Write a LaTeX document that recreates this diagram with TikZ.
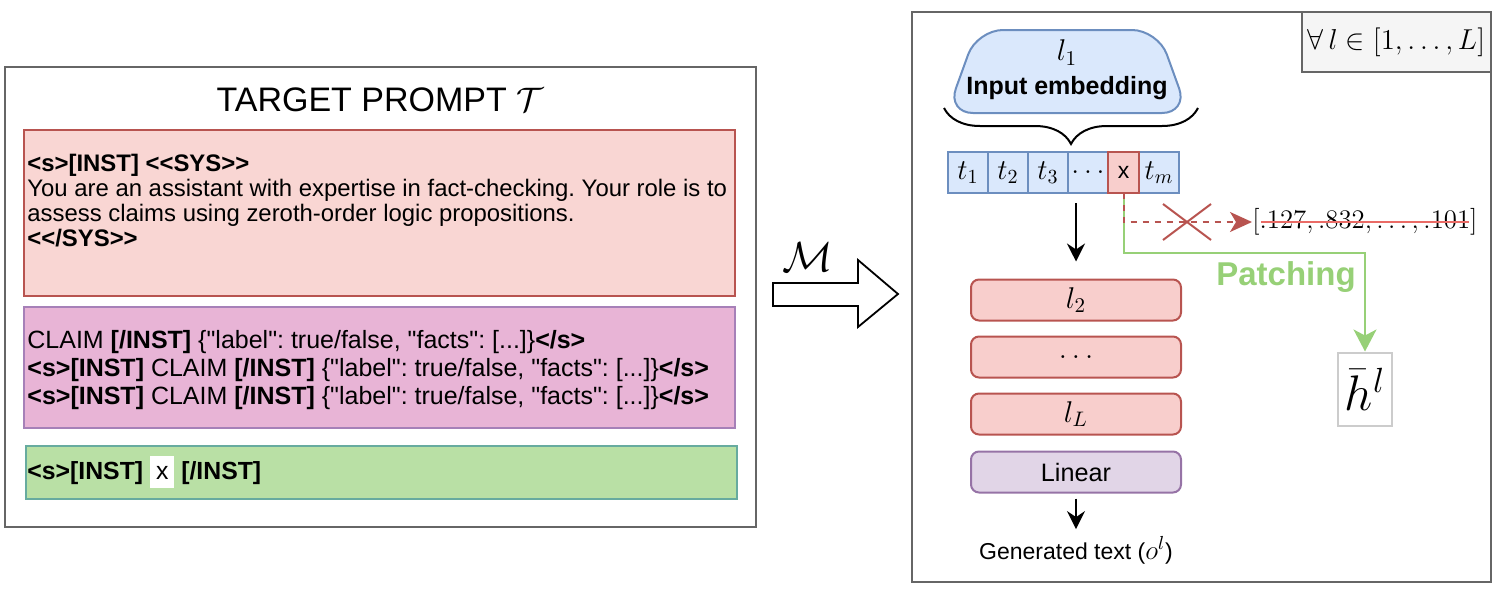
\RequirePackage{fix-cm}
\documentclass[tikz,border=0pt]{standalone}
\usepackage[no-math]{fontspec}
\setmainfont{Liberation Sans}
\usepackage{amsmath}
\usepackage{xcolor}
\usepackage{amssymb}
\usepackage{tikz}
\usetikzlibrary{positioning,shapes.misc,arrows.meta,decorations.pathreplacing}

\definecolor{boxgray}{HTML}{666666}
\definecolor{sysfill}{HTML}{F9D6D3}
\definecolor{sysdraw}{HTML}{B85450}
\definecolor{shotfill}{HTML}{E8B4D6}
\definecolor{shotdraw}{HTML}{A680B8}
\definecolor{qfill}{HTML}{B9E0A5}
\definecolor{qdraw}{HTML}{67AB9F}
\definecolor{embfill}{HTML}{DAE8FC}
\definecolor{embdraw}{HTML}{6C8EBF}
\definecolor{layfill}{HTML}{F8CECC}
\definecolor{linfill}{HTML}{E1D5E7}
\definecolor{lindraw}{HTML}{9673A6}
\definecolor{forallfill}{HTML}{F5F5F5}
\definecolor{hgray}{HTML}{CCCCCC}
\definecolor{patchgreen}{HTML}{97D077}
\definecolor{strikered}{HTML}{EA6B66}
\newcommand{\qt}{\textquotedbl}
\newcommand{\shotline}{\{\qt label\qt: true/false, \qt facts\qt: [...]\}\textbf{</s>}}
\frenchspacing

\begin{document}
\begin{tikzpicture}[x=0.5pt, y=-0.5pt,
panel/.style = {draw=boxgray, line width=1pt, inner sep=0},
part/.style = {line width=1pt, inner sep=0, minimum width=355.5pt},
ptext/.style = {inner sep=0, anchor=west, align=left},
tok/.style = {draw=embdraw, fill=embfill, line width=0.9pt, inner sep=0, outer sep=0, minimum width=20pt, minimum height=20.5pt, font=\fontsize{14.4}{16}\selectfont},
layer/.style = {draw=sysdraw, fill=layfill, line width=1pt, rounded corners=4pt, minimum width=105pt, minimum height=20.5pt, font=\fontsize{15}{17}\selectfont},
arr/.style = {-{Stealth[length=9pt,width=9pt,inset=3pt]}, line width=0.8pt}]
\useasboundingbox (0,0) rectangle (1495,594);

\node[panel, minimum width=375.5pt, minimum height=230pt] (prompt) at (380.5,297) {};
\node[font=\fontsize{17}{20}\selectfont] (title) at (380,100) {TARGET PROMPT $\mathcal{T}$};
\node[part, draw=sysdraw, fill=sysfill, minimum height=83pt] (sys) at (379.5,213) {};
\node[part, draw=shotdraw, fill=shotfill, minimum height=60.5pt] (shots) at (379.5,367.5) {};
\node[part, draw=qdraw, fill=qfill, minimum height=26.5pt] (query) at (381,472) {};
\node[ptext, font=\fontsize{11.95}{12.5}\selectfont] (systext) at (27,201) {\textbf{<s>[INST] <{}<SYS>{}>}\\
You are an assistant with expertise in fact-checking. Your role is to\\
assess claims using zeroth-order logic propositions.\\
\textbf{<{}</SYS>{}>}};
\node[ptext, font=\fontsize{12.5}{14}\selectfont] (shottext) at (27,370) {CLAIM \textbf{[/INST]} \shotline\\
\textbf{<s>[INST]} CLAIM \textbf{[/INST]} \shotline\\
\textbf{<s>[INST]} CLAIM \textbf{[/INST]} \shotline};
\node[ptext, font=\fontsize{12.4}{14}\selectfont] (qtext) at (27,472) {\textbf{<s>[INST]} \setlength{\fboxsep}{3pt}\colorbox{white}{\rule[-1.5pt]{0pt}{10pt}x} \textbf{[/INST]}};

\draw[line width=0.9pt, fill=white] (773,283) -- (858,283) -- (858,260) -- (898,294) -- (858,327) -- (858,306) -- (773,306) -- cycle;
\node[font=\fontsize{21}{24}\selectfont] (model) at (808,257) {$\mathcal{M}$};

\node[panel, minimum width=289.5pt, minimum height=285pt] (patchpanel) at (1201.5,297) {};
\node[panel, fill=forallfill, minimum width=94.5pt, minimum height=30pt, font=\fontsize{14.4}{16}\selectfont] (forall) at (1396.5,42) {$\forall\, l \in [1,\ldots,L]$};

\draw[draw=embdraw, fill=embfill, line width=1pt, rounded corners=13pt] (1067,113) -- (947,113) -- (977,30) -- (1158,30) -- (1188,113) -- cycle;
\node[inner sep=0, align=center, font=\fontsize{12.5}{14}\selectfont] (emb) at (1067,70) {{\fontsize{15}{17}\selectfont$l_1$}\\[3pt]\textbf{Input embedding}};
\draw[decorate, decoration={brace, mirror, amplitude=18pt}, line width=1pt] (944,108) -- (1198,108);

\node[tok] (t1) at (968,172.5) {$t_1$};
\node[tok, right=0pt of t1] (t2) {$t_2$};
\node[tok, right=0pt of t2] (t3) {$t_3$};
\node[tok, right=0pt of t3] (tdots) {$\ldots$};
\node[tok, right=15.5pt of tdots] (tm) {$t_m$};
\node[tok, draw=sysdraw, fill=layfill, line width=1.2pt, minimum width=15.5pt, font=\fontsize{11.5}{13}\selectfont, right=0pt of tdots] (tx) {x};

\node[layer] (l2) at (1076,300) {$l_2$};
\node[layer, below=7pt of l2] (ldots) {$\ldots$};
\node[layer, below=7pt of ldots] (lL) {$l_L$};
\node[layer, draw=lindraw, fill=linfill, below=7.5pt of lL, font=\fontsize{12.6}{14}\selectfont] (lin) {Linear};
\node[font=\fontsize{11.5}{13}\selectfont] (gen) at (1076,550) {Generated text ({\fontsize{13.5}{15}\selectfont$o^l$})};

\draw[arr, shorten <=5pt, shorten >=8.5pt] (l2.north |- t3.south) -- (l2.north);
\draw[arr, shorten <=2.5pt] (lin.south) -- (gen.north);

\node[inner sep=0, anchor=west, font=\fontsize{13.4}{16}\selectfont] (vec) at (1252,222) {$[.127,.832,\ldots,.101]$};
\draw[strikered, line width=1pt] ([xshift=4.5pt]vec.west) -- ([xshift=-4.5pt]vec.east);
\node[draw=hgray, fill=white, line width=1pt, minimum width=27pt, minimum height=36.5pt, inner sep=0, font=\fontsize{25}{30}\selectfont] (hb) at (1365,389) {$\bar{h}^l$};
\node[text=patchgreen, font=\fontsize{16.5}{19}\selectfont\bfseries] (plabel) at (1286,277) {Patching};

\draw[patchgreen, line width=1pt, -{Stealth[length=11pt,width=11.5pt,inset=3pt]}] (tx.south) -- ++(0,60) -| (hb.north);
\draw[sysdraw, line width=1pt, dash pattern=on 3pt off 3pt, -{Stealth[length=11pt,width=10pt,inset=3pt]}] (tx.south) |- (vec.west);
\node[cross out, draw=sysdraw, line width=1pt, minimum width=23pt, minimum height=17pt, inner sep=0] (cut) at (1187,222) {};
\end{tikzpicture}
\end{document}
